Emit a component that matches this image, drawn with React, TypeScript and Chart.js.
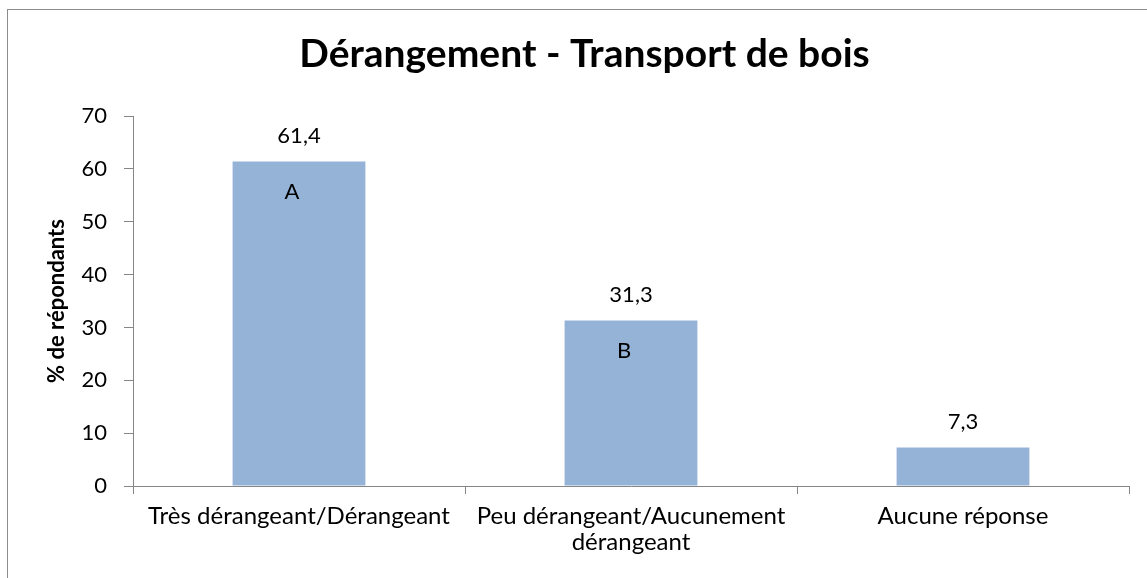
import React, { useEffect, useRef } from "react";
import { Chart, registerables } from "chart.js";

Chart.register(...registerables);

const titleText = "Dérangement - Transport de bois";
const yAxisTitle = "% de répondants";
const categories: (string | string[])[] = [
  "Très dérangeant/Dérangeant",
  ["Peu dérangeant/Aucunement", "dérangeant"],
  "Aucune réponse",
];
const values = [61.4, 31.3, 7.3];
const letters = ["A", "B", ""];
const yMin = 0;
const yMax = 70;
const yStep = 10;

const FONT = "Lato, 'Open Sans', sans-serif";
const AXIS = "#868686";
const BAR = "#95B3D7";

const labelPlugin = {
  id: "barLabels",
  beforeDraw(chart: any) {
    const ctx = chart.ctx;
    ctx.save();
    ctx.strokeStyle = "#8c8c8c";
    ctx.lineWidth = 1;
    ctx.strokeRect(7.5, 9.5, 2000, 2000);
    ctx.restore();
  },
  afterDatasetsDraw(chart: any) {
    const ctx = chart.ctx;
    const meta = chart.getDatasetMeta(0);
    ctx.save();
    ctx.fillStyle = "#000";
    ctx.textAlign = "center";
    ctx.textBaseline = "middle";
    ctx.font = `22px ${FONT}`;
    meta.data.forEach((bar: any, i: number) => {
      const v = values[i];
      ctx.fillText(v.toFixed(1).replace(".", ","), bar.x, bar.y - 26);
      if (letters[i]) ctx.fillText(letters[i], bar.x - 7, bar.y + 30);
    });
    ctx.restore();
  },
};

export default function App() {
  const ref = useRef<HTMLCanvasElement | null>(null);
  useEffect(() => {
    if (!ref.current) return;
    const chart = new Chart(ref.current, {
      type: "bar",
      data: {
        labels: categories,
        datasets: [
          {
            data: values,
            backgroundColor: BAR,
            borderWidth: 0,
            categoryPercentage: 1,
            barPercentage: 0.4,
          },
        ],
      },
      options: {
        animation: false,
        responsive: true,
        maintainAspectRatio: false,
        layout: { padding: { left: 40, right: 18, top: 0, bottom: 0 } },
        plugins: {
          legend: { display: false },
          tooltip: { enabled: false },
          title: {
            display: true,
            text: titleText,
            color: "#000",
            font: { family: FONT, size: 39, weight: "bold" },
            padding: { top: 31, bottom: 38.2 },
          },
        },
        scales: {
          x: {
            offset: true,
            grid: {
              offset: true,
              drawOnChartArea: false,
              drawTicks: true,
              tickLength: 8,
              color: AXIS,
            },
            border: { display: true, color: AXIS },
            ticks: {
              color: "#000",
              font: { family: FONT, size: 24, lineHeight: 1.05 },
              padding: 10,
              maxRotation: 0,
              autoSkip: false,
            },
            afterFit(scale: any) {
              scale.height = 92;
            },
          },
          y: {
            min: yMin,
            max: yMax,
            grid: {
              drawOnChartArea: false,
              drawTicks: true,
              tickLength: 9,
              color: AXIS,
            },
            border: { display: true, color: AXIS },
            ticks: {
              stepSize: yStep,
              color: "#000",
              font: { family: FONT, size: 22 },
              padding: 17,
            },
            title: {
              display: true,
              text: yAxisTitle,
              color: "#000",
              font: { family: FONT, size: 22, weight: "bold" },
              padding: { top: 4, bottom: 0 },
            },
            afterFit(scale: any) {
              scale.width = 93;
            },
          },
        },
      },
      plugins: [labelPlugin],
    });
    return () => chart.destroy();
  }, []);
  return (
    <div style={{ position: "fixed", left: 0, top: 0, width: 1147, height: 578 }}>
      <canvas ref={ref} />
    </div>
  );
}
